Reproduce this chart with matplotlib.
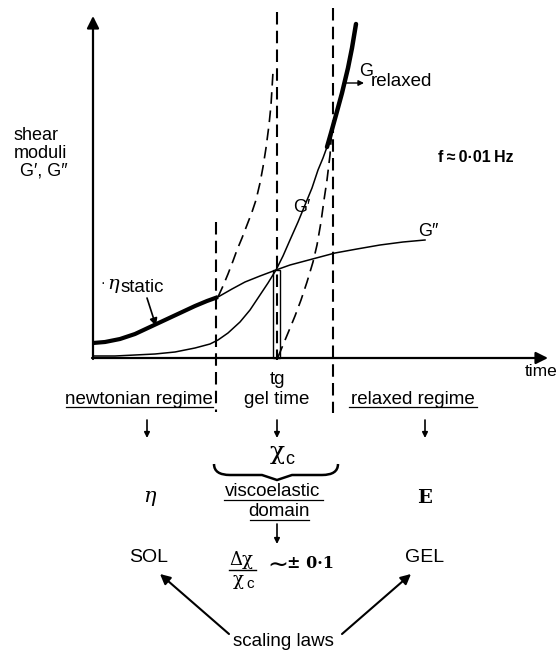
import matplotlib
matplotlib.use("Agg")
import matplotlib.pyplot as plt
from matplotlib.path import Path
from matplotlib.patches import PathPatch, Rectangle

plt.rcParams['font.family'] = ['Liberation Sans', 'DejaVu Sans']

# curve points (pixel coords, y down)
# G'' : thick (newtonian part) then thin
gpp_thick_x = [93, 105, 120, 135, 150, 165, 180, 195, 207, 218]
gpp_thick_y = [343, 342, 339, 334, 327, 320, 313, 306, 301, 297]
gpp_x = [218, 232, 245, 260, 276, 290, 305, 320, 335, 357, 380, 403, 425]
gpp_y = [297, 289, 282, 276, 270, 265, 261, 257, 253, 249, 245, 242, 240]

# G'
gp_x = [93, 115, 135, 155, 175, 195, 210, 218, 228, 240, 250, 260, 268, 276,
        283, 290, 298, 305, 312, 318, 323, 327]
gp_y = [356, 356, 355, 354, 352, 348, 344, 340, 333, 322, 310, 295, 283, 270,
        256, 240, 222, 205, 188, 170, 158, 147]

# G relaxed (thick end of G')
grel_x = [327, 331, 336, 342, 348, 352, 356]
grel_y = [147, 133, 115, 93, 68, 48, 24]

dash_left_x = [218, 223, 228, 233, 237, 242, 247, 252, 256, 260, 263, 266, 269, 271, 273]
dash_left_y = [297, 286, 274, 261, 250, 238, 225, 212, 200, 183, 167, 148, 125, 105, 72]

dash_right_x = [278, 283, 288, 295, 301, 307, 313, 317, 321, 324, 327, 330, 332]
dash_right_y = [357, 345, 333, 316, 300, 282, 262, 245, 222, 200, 180, 155, 128]

# boundaries: x, top, bottom
bounds_x = [216, 277, 333]
bounds_top = [222, 12, 8]
bounds_bot = [412, 360, 413]

fig = plt.figure(figsize=(5.58, 6.54), dpi=100)
ax = fig.add_axes([0, 0, 1, 1])
ax.set_xlim(0, 558)
ax.set_ylim(654, 0)
ax.axis('off')

# axes with arrows
ax.annotate('', xy=(93, 16), xytext=(93, 359),
            arrowprops=dict(arrowstyle='-|>', lw=1.6, color='black', mutation_scale=18, shrinkA=0, shrinkB=0))
ax.annotate('', xy=(548, 358), xytext=(92, 358),
            arrowprops=dict(arrowstyle='-|>', lw=1.6, color='black', mutation_scale=18, shrinkA=0, shrinkB=0))

ax.plot(gpp_thick_x, gpp_thick_y, color='black', lw=3.0, solid_capstyle='butt')
ax.plot(gpp_x, gpp_y, color='black', lw=1.1)

ax.plot(gp_x, gp_y, color='black', lw=1.1)
ax.plot(grel_x, grel_y, color='black', lw=3.2, solid_capstyle='round')

# dashed curves
ax.plot(dash_left_x, dash_left_y, color='black', lw=1.2, ls=(0, (7, 4)))
ax.plot(dash_right_x, dash_right_y, color='black', lw=1.2, ls=(0, (7, 4)))

# vertical boundary lines
for bx, bt, bb in zip(bounds_x, bounds_top, bounds_bot):
    ax.plot([bx, bx], [bt, bb], color='black', lw=1.5, ls=(0, (6, 3)))

# narrow box at gel time
ax.add_patch(Rectangle((273, 270), 7, 88, fill=False, lw=1.0, ec='black'))

# labels on the graph
ax.text(14, 135, 'shear', fontsize=13, va='center', ha='left')
ax.text(14, 153, 'moduli', fontsize=13, va='center', ha='left')
ax.text(20, 171, 'G\u2032, G\u2033', fontsize=13, va='center', ha='left')
ax.text(438, 158, 'f\u2009\u2248\u20090\u00b701\u2009Hz', fontsize=11.5, va='center', ha='left', weight='bold')
ax.text(418, 231, 'G\u2033', fontsize=13, va='center', ha='left')
ax.text(293, 208, 'G\u2032', fontsize=13, va='center', ha='left')
ax.text(359, 71, 'G', fontsize=13, va='center', ha='left')
ax.text(371, 82, 'relaxed', fontsize=13.5, va='center', ha='left')
ax.annotate('', xy=(364, 83), xytext=(344, 83),
            arrowprops=dict(arrowstyle='-|>', lw=1.0, color='black', mutation_scale=8, shrinkA=0, shrinkB=0))
ax.text(100, 283, '\u00b7', fontsize=10, va='center', ha='left')
ax.text(107, 284, '\u03b7', fontsize=14, va='center', ha='left', family='DejaVu Serif', style='italic')
ax.text(121, 287, 'static', fontsize=13.5, va='center', ha='left')
ax.annotate('', xy=(156, 326), xytext=(147, 298),
            arrowprops=dict(arrowstyle='-|>', lw=1.2, color='black', mutation_scale=11, shrinkA=0, shrinkB=0))
ax.text(541, 371, 'time', fontsize=12.5, va='center', ha='center')

# lower scheme
ax.text(278, 379, 'tg', fontsize=13.5, va='center', ha='center')
ax.text(277, 399, 'gel time', fontsize=13.5, va='center', ha='center')
ax.text(139, 399, 'newtonian regime', fontsize=13.5, va='center', ha='center')
ax.plot([66, 213], [407, 407], color='black', lw=0.9)
ax.text(413, 399, 'relaxed regime', fontsize=13.5, va='center', ha='center')
ax.plot([349, 477], [407, 407], color='black', lw=0.9)

for ax_x in [147, 277, 425]:
    ax.annotate('', xy=(ax_x, 438), xytext=(ax_x, 420),
                arrowprops=dict(arrowstyle='-|>', lw=1.2, color='black', mutation_scale=8, shrinkA=0, shrinkB=0))

ax.text(270, 452, '\u03c7', fontsize=18, va='center', ha='left', family='DejaVu Serif')
ax.text(285, 460, 'c', fontsize=13, va='center', ha='left')

# curly brace under chi_c
verts = [(214, 464), (214, 475), (230, 475),
         (262, 475), (262, 475), (277, 480),
         (292, 475), (292, 475), (322, 475),
         (338, 475), (338, 464)]
codes = [Path.MOVETO, Path.CURVE3, Path.CURVE3,
         Path.LINETO, Path.CURVE3, Path.CURVE3,
         Path.CURVE3, Path.CURVE3, Path.LINETO,
         Path.CURVE3, Path.CURVE3]
ax.add_patch(PathPatch(Path(verts, codes), fill=False, lw=1.8, ec='black'))

ax.text(273, 492, 'viscoelastic', fontsize=13.5, va='center', ha='center')
ax.plot([224, 323], [500, 500], color='black', lw=0.9)
ax.text(279, 512, 'domain', fontsize=13.5, va='center', ha='center')
ax.plot([250, 309], [520, 520], color='black', lw=0.9)
ax.annotate('', xy=(277, 544), xytext=(277, 524),
            arrowprops=dict(arrowstyle='-|>', lw=1.2, color='black', mutation_scale=8, shrinkA=0, shrinkB=0))

ax.text(149, 497, '\u03b7', fontsize=15, va='center', ha='center', family='DejaVu Serif', style='italic')
ax.text(425, 498, 'E', fontsize=14, va='center', ha='center', family='DejaVu Serif', weight='bold')

ax.text(149, 558, 'SOL', fontsize=14, va='center', ha='center')
ax.text(425, 558, 'GEL', fontsize=14, va='center', ha='center')

# fraction
ax.text(241, 560, '\u0394\u03c7', fontsize=13, va='center', ha='center', family='DejaVu Serif')
ax.plot([229, 256], [570, 570], color='black', lw=1.0)
ax.text(238, 580, '\u03c7', fontsize=13, va='center', ha='center', family='DejaVu Serif')
ax.text(246, 584, 'c', fontsize=11, va='center', ha='left')
ax.text(267, 566, '\u223c', fontsize=18, va='center', ha='left', family='DejaVu Sans')
ax.text(287, 563, '\u00b1 0\u00b71', fontsize=11.5, va='center', ha='left', weight='bold', family='DejaVu Serif')

ax.text(283, 641, 'scaling laws', fontsize=13.5, va='center', ha='center')
ax.annotate('', xy=(160, 574), xytext=(229, 634),
            arrowprops=dict(arrowstyle='-|>', lw=1.5, color='black', mutation_scale=15, shrinkA=0, shrinkB=0))
ax.annotate('', xy=(411, 574), xytext=(342, 634),
            arrowprops=dict(arrowstyle='-|>', lw=1.5, color='black', mutation_scale=15, shrinkA=0, shrinkB=0))

fig.savefig('out.png', dpi=100)
